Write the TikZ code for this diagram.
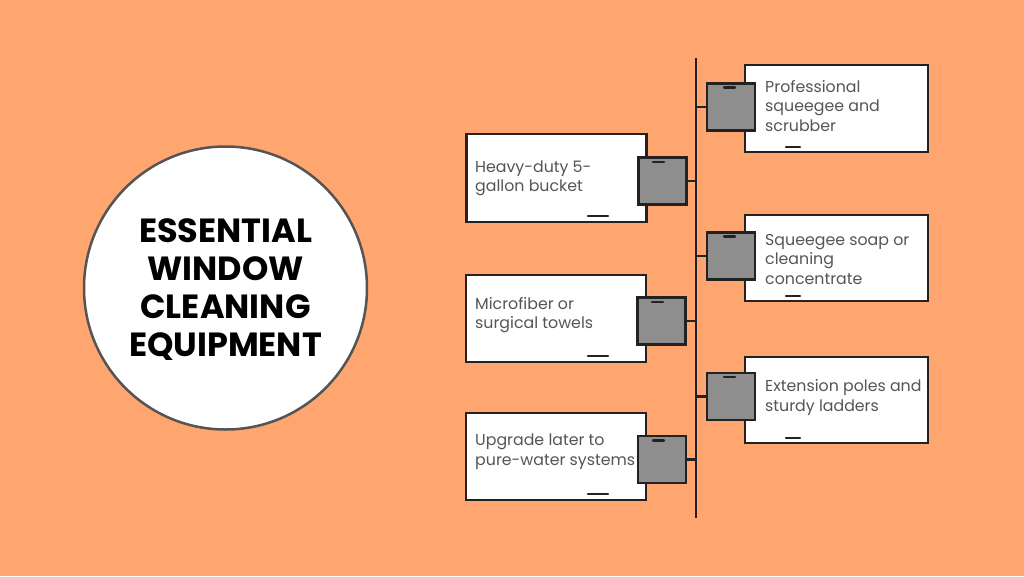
\documentclass[tikz,border=0pt]{standalone}
\usepackage{fontspec}
\setmainfont{Poppins}
\definecolor{bg}{RGB}{255,166,112}
\definecolor{ink}{RGB}{34,34,34}
\definecolor{txt}{RGB}{85,85,85}
\definecolor{sq}{RGB}{142,142,142}
\tikzset{
  card/.style={draw=ink, line width=2.6pt, fill=white, rectangle, inner sep=0pt},
  tab/.style={draw=ink, line width=2.6pt, fill=sq, rectangle, inner sep=0pt, minimum width=48pt, minimum height=47pt},
  label/.style={anchor=west, align=left, text=txt, font=\fontsize{15.8}{19.5}\selectfont, inner sep=0pt},
  link/.style={draw=ink, line width=2.2pt},
  tick/.style={draw=ink, line width=2.2pt, line cap=round},
}
\begin{document}
\begin{tikzpicture}[x=1pt,y=-1pt]
\fill[bg] (0,0) rectangle (1024,576);
\useasboundingbox (0,0) rectangle (1024,576);
% title circle
\node[circle, draw=black!67, line width=2.5pt, fill=white, minimum size=283pt, inner sep=0pt] (c) at (225.5,288) {};
\node[font=\fontsize{33.5}{38}\selectfont\bfseries, align=center, text=black] (title) at (225.5,290) {ESSENTIAL\\WINDOW\\CLEANING\\EQUIPMENT};
% spine
\coordinate (top) at (696,58);
\coordinate (bot) at (696,518);
\draw[link] (top) -- (bot);
% right cards
\node[card, minimum width=183pt, minimum height=87pt] (b1) at (836.5,108.5) {};
\node[card, minimum width=183pt, minimum height=86pt] (b3) at (836.5,258) {};
\node[card, minimum width=183pt, minimum height=86pt] (b5) at (836.5,400) {};
% left cards
\node[card, minimum width=180pt, minimum height=88pt] (b2) at (556.5,178) {};
\node[card, minimum width=180pt, minimum height=87pt] (b4) at (556,318.5) {};
\node[card, minimum width=180pt, minimum height=87pt] (b6) at (556,456.5) {};
% bottom marks on cards
\draw[tick] (786,147) -- (800,147);
\draw[tick] (786,296) -- (800,296);
\draw[tick] (786,438) -- (800,438);
\draw[tick] (588,216) -- (608,216);
\draw[tick] (588,356) -- (608,356);
\draw[tick] (588,494) -- (608,494);
% tabs
\node[tab] (s1) at (731,107) {};
\node[tab] (s3) at (731,256) {};
\node[tab] (s5) at (731,396.5) {};
\node[tab] (s2) at (662.5,181) {};
\node[tab] (s4) at (661.5,321) {};
\node[tab] (s6) at (662,459.5) {};
% tab marks
\draw[tick] (724,87.5) -- (735,87.5);
\draw[tick] (724,236.5) -- (735,236.5);
\draw[tick] (724,377) -- (735,377);
\draw[tick] (653,162) -- (664,162);
\draw[tick] (652,302) -- (663,302);
\draw[tick] (653,440.5) -- (664,440.5);
% connectors
\draw[link] (s1.west) -- (s1.west -| top);
\draw[link] (s3.west) -- (s3.west -| top);
\draw[link] (s5.west) -- (s5.west -| top);
\draw[link] (s2.east) -- (s2.east -| top);
\draw[link] (s4.east) -- (s4.east -| top);
\draw[link] (s6.east) -- (s6.east -| top);
% labels
\node[label] (t1) at (765,106) {Professional\\squeegee and\\scrubber};
\node[label] (t3) at (765,259) {Squeegee soap or\\cleaning\\concentrate};
\node[label] (t5) at (765,397.5) {Extension poles and\\sturdy ladders};
\node[label] (t2) at (475,178.5) {Heavy-duty 5-\\gallon bucket};
\node[label] (t4) at (475,315) {Microfiber or\\surgical towels};
\node[label] (t6) at (475,451.5) {Upgrade later to\\pure-water systems};
\end{tikzpicture}
\end{document}
